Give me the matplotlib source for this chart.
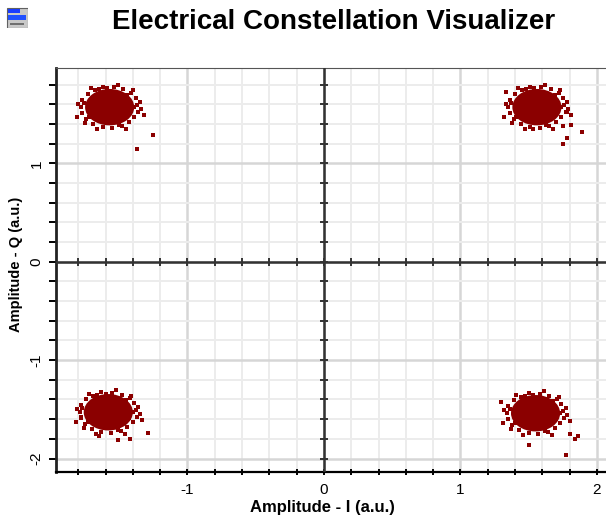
import matplotlib.pyplot as plt
import numpy as np
from matplotlib.patches import Ellipse, Rectangle

plt.rcParams['font.family'] = ['Liberation Sans', 'DejaVu Sans']
plt.rcParams['axes.unicode_minus'] = False

# symbol centres (I, Q) of the four clouds
centre_i = [-1.57, 1.56, -1.58, 1.55]
centre_q = [1.57, 1.57, -1.53, -1.54]
core_w = 0.36
core_h = 0.37

# loose samples round the rim of each cloud, offset from its centre
edge_di = [0.20, 0.21, 0.19, 0.16, 0.10, 0.03, -0.05, -0.11, -0.16, -0.20,
           -0.21, -0.20, -0.17, -0.12, -0.05, 0.02, 0.09, 0.14, 0.18, 0.22,
           0.23, -0.23, 0.12, -0.09, 0.06, -0.14, 0.17, -0.18, 0.25, -0.24,
           0.18, 0.13, -0.02, -0.15, -0.19, 0.07, -0.08, 0.15]
edge_dq = [0.02, -0.05, 0.09, 0.14, 0.18, 0.20, 0.21, 0.17, 0.13, 0.07,
           0.00, -0.06, -0.12, -0.17, -0.20, -0.21, -0.19, -0.15, -0.10, 0.05,
           -0.02, 0.03, -0.22, -0.22, 0.23, 0.19, 0.17, -0.16, -0.08, -0.10,
           0.00, 0.12, 0.19, -0.10, 0.04, -0.18, 0.18, -0.06]

# stray samples
out_i = [-1.25, -1.37, 1.33, 1.78, 1.81, 1.75, 1.89, 1.78, 1.75, 1.53,
         -1.29, -1.51, -1.42, -1.65, -1.78, 1.50, 1.77, 1.80, 1.84, 1.86, 1.30]
out_q = [1.29, 1.15, 1.72, 1.52, 1.39, 1.38, 1.32, 1.26, 1.20, 1.35,
         -1.74, -1.81, -1.80, -1.77, -1.58, -1.86, -1.96, -1.75, -1.80, -1.77, -1.43]

red = '#8b0000'

fig = plt.figure(figsize=(6.06, 5.17), dpi=100)
ax = fig.add_axes([56 / 606, (517 - 471.7) / 517, 550 / 606, (471.7 - 68.3) / 517])
ax.set_xlim(-1.963, 2.066)
ax.set_ylim(-2.134, 1.965)

# clouds
for ci, cq in zip(centre_i, centre_q):
    ax.add_patch(Ellipse((ci, cq), core_w, core_h, color=red, zorder=4, lw=0))
    ax.scatter(np.array(edge_di) + ci, np.array(edge_dq) + cq, s=5, marker='s',
               color=red, lw=0, zorder=4)
ax.scatter(out_i, out_q, s=5, marker='s', color=red, lw=0, zorder=4)

# grid
ax.set_xticks([-1, 0, 1, 2])
ax.set_yticks([-2, -1, 0, 1])
ax.set_xticks(np.arange(-1.8, 2.05, 0.2), minor=True)
ax.set_yticks(np.arange(-2.0, 1.95, 0.2), minor=True)
ax.grid(which='minor', color='#ececec', lw=1.4, zorder=0)
ax.grid(which='major', color='#d6d6d6', lw=1.8, zorder=0)
ax.set_axisbelow(True)

# centre cross with its own ticks
ax.axhline(0, color='#333333', lw=1.8, zorder=3)
ax.axvline(0, color='#333333', lw=1.8, zorder=3)
tx = np.arange(-1.8, 2.05, 0.2)
ty = np.arange(-2.0, 1.95, 0.2)
ax.plot(tx, np.zeros_like(tx), ls='none', marker='|', ms=6, mew=1.4, color='#333333', zorder=3)
ax.plot(np.zeros_like(ty), ty, ls='none', marker='_', ms=6, mew=1.4, color='#333333', zorder=3)

# spines
ax.spines['right'].set_visible(False)
ax.spines['top'].set_linestyle((0, (1, 1)))
ax.spines['top'].set_color('#555555')
ax.spines['bottom'].set_linestyle((0, (1, 1)))
ax.spines['bottom'].set_linewidth(1.6)
ax.spines['left'].set_linewidth(2)
ax.spines['left'].set_color('#222222')

ax.tick_params(axis='y', which='both', direction='out', length=5, width=1.4, pad=4,
               labelsize=11, labelrotation=90)
ax.tick_params(axis='x', which='both', direction='inout', length=4, width=1.4, pad=6,
               labelsize=11)
for t in ax.get_yticklabels():
    t.set_va('center')

ax.set_xlabel('Amplitude - I (a.u.)', fontsize=12, fontweight='bold')
ax.set_ylabel('Amplitude - Q (a.u.)', fontsize=10.5, fontweight='bold')
ax.xaxis.set_label_coords(0.485, -0.069)
ax.yaxis.set_label_coords(-0.06, 0.513)

fig.text(334 / 606, 1 - 22 / 517, 'Electrical Constellation Visualizer', fontsize=20,
         fontweight='bold', ha='center', va='center')

# small window icon in the corner
icon = fig.add_axes([6 / 606, 1 - 28 / 517, 22 / 606, 21 / 517])
icon.set_xlim(0, 22)
icon.set_ylim(0, 21)
icon.axis('off')
icon.add_patch(Rectangle((0.5, 0.5), 21, 20, facecolor='#c8c8c8', edgecolor='#606060', lw=0.8))
icon.add_patch(Rectangle((2, 15), 12, 4, facecolor='#1a3cff', lw=0))
icon.add_patch(Rectangle((2, 8.5), 18, 4.5, facecolor='#2050ff', lw=0))
icon.add_patch(Rectangle((4, 3), 14, 2, facecolor='#707070', lw=0))

fig.savefig('out.png', dpi=100)
